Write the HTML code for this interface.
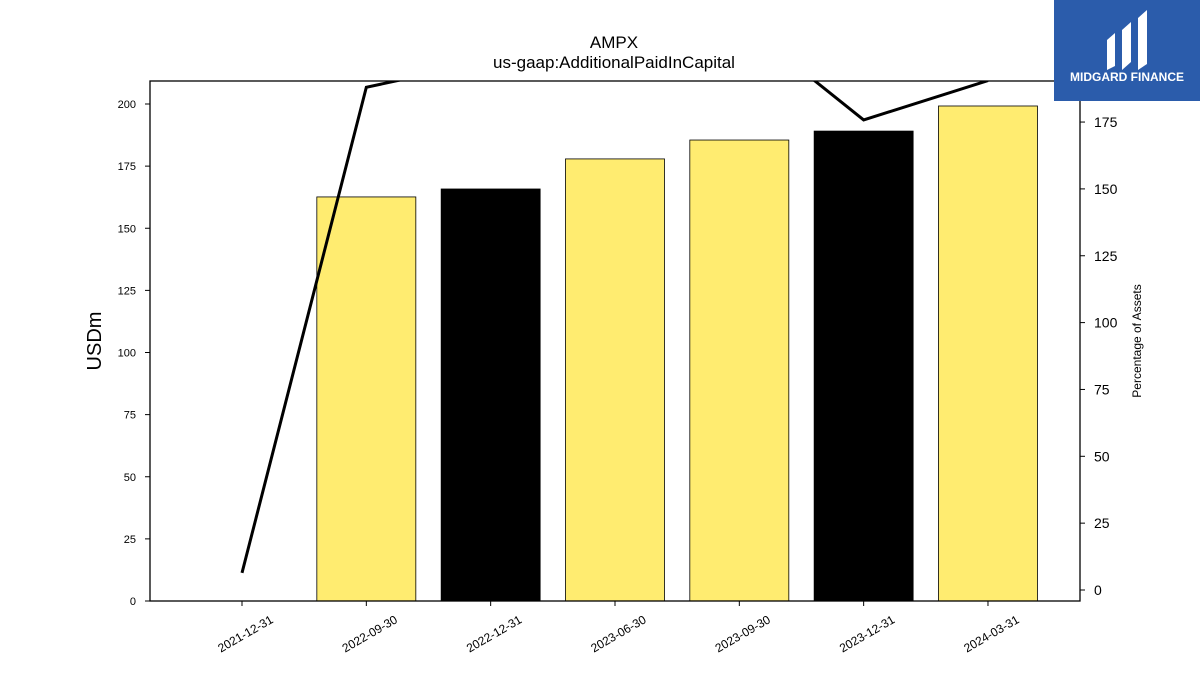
<!DOCTYPE html>
<html><head><meta charset="utf-8"><style>
body{margin:0;background:#fff;}
svg{font-family:"Liberation Sans","DejaVu Sans",sans-serif;}
</style></head><body>
<svg id="c" width="1200" height="675" viewBox="0 0 1200 675">
<defs><clipPath id="clip"><rect x="150" y="81" width="930" height="520"/></clipPath></defs>
<text x="614" y="48" text-anchor="middle" font-size="17">AMPX</text>
<text x="614" y="68" text-anchor="middle" font-size="17">us-gaap:AdditionalPaidInCapital</text>
<g id="bars"></g>
<g id="line" clip-path="url(#clip)"></g>
<rect x="150" y="81" width="930" height="520" fill="none" stroke="#000" stroke-width="1.3"/>
<g id="axes"></g>
<text transform="translate(101,341) rotate(-90)" text-anchor="middle" font-size="20">USDm</text>
<text transform="translate(1141,341) rotate(-90)" text-anchor="middle" font-size="12">Percentage of Assets</text>
<g>
<rect x="1054" y="0" width="146" height="101" fill="#2b5cab"/>
<path d="M1107 40 L1115 33 L1115 66 L1107 70 Z M1122 30 L1131 22 L1131 62 L1122 70 Z M1138 18 L1147 10 L1147 64 L1138 70 Z" fill="#fff"/>
<text x="1127" y="81" text-anchor="middle" font-size="12" font-weight="bold" fill="#fff">MIDGARD FINANCE</text>
</g>
</svg>
<script>
const categories=["2021-12-31","2022-09-30","2022-12-31","2023-06-30","2023-09-30","2023-12-31","2024-03-31"];
const barValues=[0,162.6,165.8,177.9,185.5,189.1,199.2];
const pctValues=[6.4,188,198,210,213,175.8,190.5];
const leftTicks=[0,25,50,75,100,125,150,175,200];
const rightTicks=[0,25,50,75,100,125,150,175];
const NS="http://www.w3.org/2000/svg";
function mk(t,a,p){const e=document.createElementNS(NS,t);for(const k in a)e.setAttribute(k,a[k]);p.appendChild(e);return e;}
const x=i=>242+i*124.33;
const yL=v=>601-v*2.485;
const yR=v=>590-v*2.674;
const bars=document.getElementById('bars'),axes=document.getElementById('axes'),line=document.getElementById('line');
barValues.forEach((v,i)=>{
 if(v<=0)return;
 const r=mk('rect',{x:x(i)-49.5,y:yL(v),width:99,height:yL(0)-yL(v),fill:categories[i].endsWith('12-31')?'#000':'#ffec70',stroke:'#000','stroke-width':0.8},bars);
 
 
});
const pl=mk('polyline',{points:pctValues.map((v,i)=>x(i)+','+yR(v)).join(' '),fill:'none',stroke:'#000','stroke-width':3},line);


leftTicks.forEach(t=>{
 mk('line',{x1:145,x2:150,y1:yL(t),y2:yL(t),stroke:'#000'},axes);
 const tx=mk('text',{x:136,y:yL(t)+4,'text-anchor':'end','font-size':11},axes);tx.textContent=t;
 
 
});
rightTicks.forEach(t=>{
 mk('line',{x1:1080,x2:1085,y1:yR(t),y2:yR(t),stroke:'#000'},axes);
 const tx=mk('text',{x:1094,y:yR(t)+5,'font-size':14},axes);tx.textContent=t;
 
 
});
categories.forEach((c,i)=>{
 mk('line',{x1:x(i),x2:x(i),y1:601,y2:606,stroke:'#000'},axes);
 const tx=mk('text',{transform:`translate(${x(i)+32},${622}) rotate(-30)`,'text-anchor':'end','font-size':12},axes);tx.textContent=c;
 
 
});
</script>
</body></html>
